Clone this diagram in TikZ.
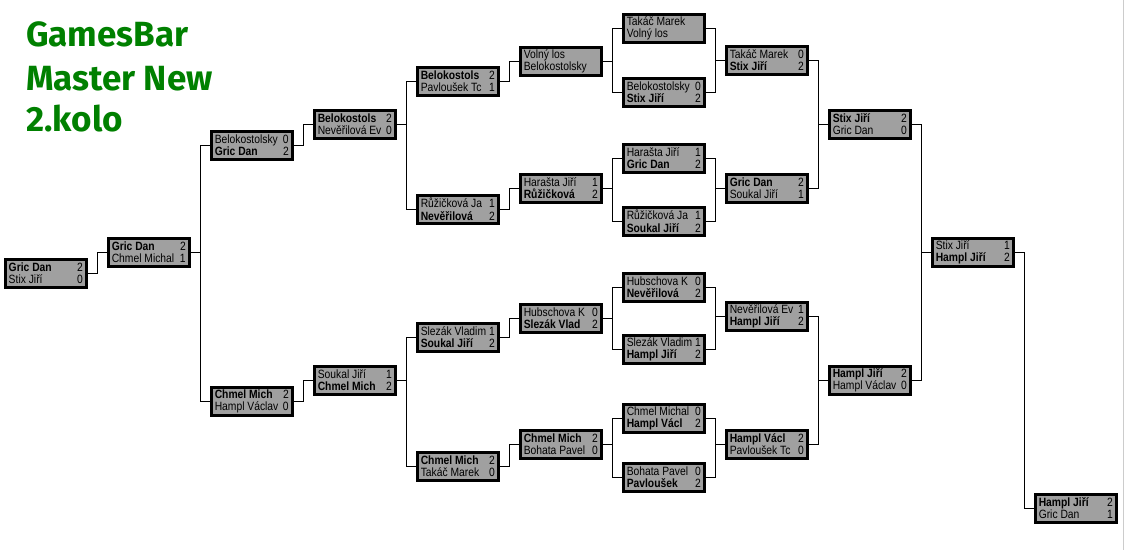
\documentclass[tikz,border=0pt]{standalone}
\usepackage{fontspec}
\setmainfont{Liberation Sans}[FakeStretch=0.86]
\newfontfamily\nadpisfont{Fira Sans}
\definecolor{boxgray}{RGB}{160,160,160}
\definecolor{titlegreen}{RGB}{0,128,0}
\tikzset{
    zapas/.style={draw=black, line width=2.5pt, fill=boxgray, minimum width=81pt,
        minimum height=28pt, inner sep=0pt, anchor=north west,
        font=\fontsize{12}{12.5}\selectfont},
    spoj/.style={black, line width=1pt},
    nadpis/.style={anchor=base west, inner sep=0pt, text=titlegreen,
        font=\nadpisfont\bfseries\fontsize{35}{38}\selectfont}
}
% one match box: name, top left corner, player 1, score 1, player 2, score 2
\newcommand{\zapas}[6]{%
    \node[zapas] (#1) at (#2) {\parbox{74pt}{#3\hfill #4\\#5\hfill #6}};}
\begin{document}
\begin{tikzpicture}[x=1pt, y=-1pt]
    \useasboundingbox (0,0) rectangle (1126,550);
    \draw[gray!40] (1123,0) -- (1123,550);
    \foreach \t/\y [count=\i] in {GamesBar/46, Master New/90, 2.kolo/131}
        \node[nadpis] (t\i) at (26,\y) {\t};

    \zapas{m0}{4,258}{\textbf{Gric Dan}}{2}{Stix Jiří}{0}
    \zapas{m1}{107,237}{\textbf{Gric Dan}}{2}{Chmel Michal}{1}

    \zapas{m2a}{210,130}{Belokostolsky}{0}{\textbf{Gric Dan}}{2}
    \zapas{m2b}{210,386}{\textbf{Chmel Mich}}{2}{Hampl Václav}{0}

    \zapas{m3a}{313,109}{\textbf{Belokostols}}{2}{Nevěřilová Ev}{0}
    \zapas{m3b}{313,365}{Soukal Jiří}{1}{\textbf{Chmel Mich}}{2}

    \zapas{m4a}{416,66}{\textbf{Belokostols}}{2}{Pavloušek Tc}{1}
    \zapas{m4b}{416,194}{Růžičková Ja}{1}{\textbf{Nevěřilová}}{2}
    \zapas{m4c}{416,322}{Slezák Vladim}{1}{\textbf{Soukal Jiří}}{2}
    \zapas{m4d}{416,451}{\textbf{Chmel Mich}}{2}{Takáč Marek}{0}

    \zapas{m5a}{519,46}{Volný los}{}{Belokostolsky}{}
    \zapas{m5b}{519,173}{Harašta Jiří}{1}{\textbf{Růžičková}}{2}
    \zapas{m5c}{519,303}{Hubschova K}{0}{\textbf{Slezák Vlad}}{2}
    \zapas{m5d}{519,429}{\textbf{Chmel Mich}}{2}{Bohata Pavel}{0}

    \zapas{m6a}{622,13}{Takáč Marek}{}{Volný los}{}
    \zapas{m6b}{622,77}{Belokostolsky}{0}{\textbf{Stix Jiří}}{2}
    \zapas{m6c}{622,143}{Harašta Jiří}{1}{\textbf{Gric Dan}}{2}
    \zapas{m6d}{622,206}{Růžičková Ja}{1}{\textbf{Soukal Jiří}}{2}
    \zapas{m6e}{622,272}{Hubschova K}{0}{\textbf{Nevěřilová}}{2}
    \zapas{m6f}{622,334}{Slezák Vladim}{1}{\textbf{Hampl Jiří}}{2}
    \zapas{m6g}{622,403}{Chmel Michal}{0}{\textbf{Hampl Václ}}{2}
    \zapas{m6h}{622,462}{Bohata Pavel}{0}{\textbf{Pavloušek}}{2}

    \zapas{m7a}{725,45}{Takáč Marek}{0}{\textbf{Stix Jiří}}{2}
    \zapas{m7b}{725,173}{\textbf{Gric Dan}}{2}{Soukal Jiří}{1}
    \zapas{m7c}{725,301}{Nevěřilová Ev}{1}{\textbf{Hampl Jiří}}{2}
    \zapas{m7d}{725,429}{\textbf{Hampl Václ}}{2}{Pavloušek Tc}{0}

    \zapas{m8a}{828,109}{\textbf{Stix Jiří}}{2}{Gric Dan}{0}
    \zapas{m8b}{828,365}{\textbf{Hampl Jiří}}{2}{Hampl Václav}{0}

    \zapas{m9}{931,237}{Stix Jiří}{1}{\textbf{Hampl Jiří}}{2}
    \zapas{m10}{1034,493}{\textbf{Hampl Jiří}}{2}{Gric Dan}{1}

    % elbow connectors
    \foreach \a/\b in {m0/m1, m1/m2a, m1/m2b, m2a/m3a, m2b/m3b,
        m3a/m4a, m3a/m4b, m3b/m4c, m3b/m4d,
        m4a/m5a, m4b/m5b, m4c/m5c, m4d/m5d,
        m5a/m6a, m5a/m6b, m5b/m6c, m5b/m6d, m5c/m6e, m5c/m6f, m5d/m6g, m5d/m6h,
        m6a/m7a, m6b/m7a, m6c/m7b, m6d/m7b, m6e/m7c, m6f/m7c, m6g/m7d, m6h/m7d,
        m7a/m8a, m7b/m8a, m7c/m8b, m7d/m8b, m8a/m9, m8b/m9, m9/m10}
        \draw[spoj] (\a.east) -- ++(10,0) |- (\b.west);
\end{tikzpicture}
\end{document}
